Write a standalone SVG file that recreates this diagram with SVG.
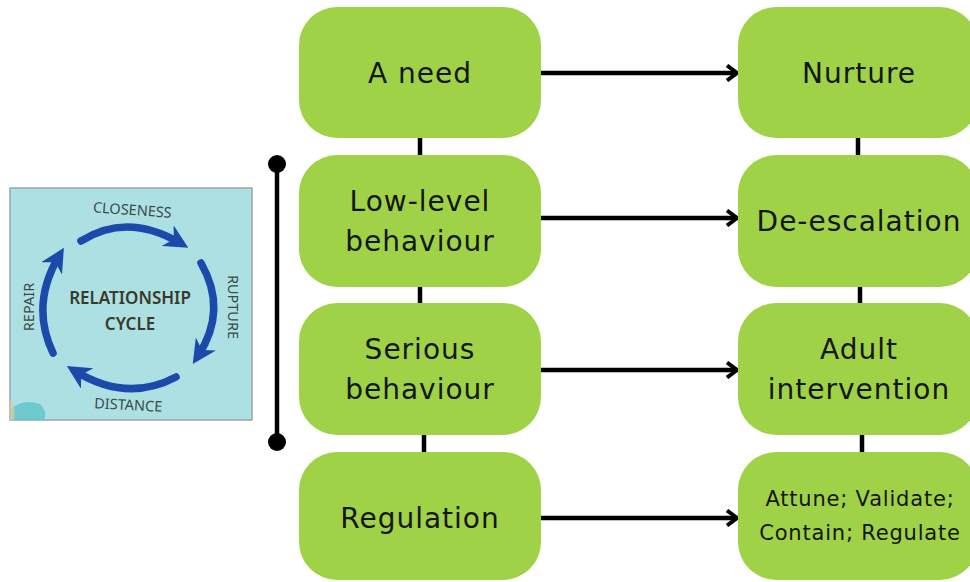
<svg xmlns="http://www.w3.org/2000/svg" width="970" height="582" viewBox="0 0 970 582">
<defs>
<style>
.box{fill:#9fd247;}
.t{font-family:"DejaVu Sans","Noto Sans",sans-serif;font-size:28px;letter-spacing:1px;fill:#151515;text-anchor:middle;}
.ts{font-family:"DejaVu Sans","Noto Sans",sans-serif;font-size:21px;letter-spacing:0.8px;fill:#151515;text-anchor:middle;}
.ln{stroke:#000;stroke-width:4.5;fill:none;}
.arw{stroke:#000;stroke-width:4.5;fill:none;marker-end:url(#chev);}
.cyc{stroke:#1c4aaa;stroke-width:7.5;fill:none;stroke-linecap:round;marker-end:url(#bh);}
.cl{font-family:"Noto Sans","Open Sans",sans-serif;font-size:14.5px;fill:#3b4a4a;text-anchor:middle;}
.cc{font-family:"Noto Sans","Open Sans",sans-serif;font-size:17px;fill:#3a3a2a;text-anchor:middle;font-weight:600;}
</style>
<marker id="chev" viewBox="0 0 14 18" refX="12" refY="9" markerWidth="14" markerHeight="18" markerUnits="userSpaceOnUse" orient="auto">
<path d="M2,1.5 L12,9 L2,16.5" fill="none" stroke="#000" stroke-width="4"/>
</marker>
<marker id="bh" viewBox="0 0 10 10" refX="6" refY="5" markerWidth="3.2" markerHeight="3.2" orient="auto">
<path d="M0,0 L10,5 L0,10 L3,5 Z" fill="#1c4aaa"/>
</marker>
</defs>
<rect width="970" height="582" fill="#fff"/>

<g id="cycle-image">
<rect x="10" y="188" width="242" height="232" fill="#ace0e2" stroke="#9aa7a8" stroke-width="1.5"/>
<path d="M10,410 Q22,398 40,404 Q48,412 44,420 L10,420 Z" fill="#5ec5cc" opacity="0.8"/>
<path d="M10,400 Q16,404 14,420 L10,420 Z" fill="#e6c9a0" opacity="0.7"/>
<path class="cyc" d="M81,241 Q127,212 180,243"/>
<path class="cyc" d="M201,263 Q228,310 198,356"/>
<path class="cyc" d="M176,377 Q127,403 75,371"/>
<path class="cyc" d="M53,353 Q30,305 59,256"/>
<text class="cl" x="132" y="215" transform="rotate(4 132 215)">CLOSENESS</text>
<text class="cl" x="228" y="307" transform="rotate(90 228 307)">RUPTURE</text>
<text class="cl" x="34" y="307" transform="rotate(-90 34 307)">REPAIR</text>
<text class="cl" x="128" y="410" transform="rotate(3 128 410)">DISTANCE</text>
<text class="cc" x="130" y="304">RELATIONSHIP</text>
<text class="cc" x="130" y="330">CYCLE</text>
</g>

<g id="connectors">
<line class="ln" x1="420" y1="136" x2="420" y2="157"/>
<line class="ln" x1="420" y1="285" x2="420" y2="305"/>
<line class="ln" x1="424" y1="433" x2="424" y2="454"/>
<line class="ln" x1="858" y1="136" x2="858" y2="157"/>
<line class="ln" x1="860" y1="285" x2="860" y2="305"/>
<line class="ln" x1="862" y1="433" x2="862" y2="454"/>
<line class="arw" x1="540" y1="73" x2="737" y2="73"/>
<line class="arw" x1="540" y1="218" x2="737" y2="218"/>
<line class="arw" x1="540" y1="370" x2="737" y2="370"/>
<line class="arw" x1="540" y1="518" x2="737" y2="518"/>
<line class="ln" x1="277" y1="164" x2="277" y2="442"/>
<circle cx="277" cy="164" r="9" fill="#000"/>
<circle cx="277" cy="442" r="9" fill="#000"/>
</g>

<g id="n-need"><rect class="box" x="299" y="7" width="242" height="131" rx="38"/><text class="t" x="420" y="83">A need</text></g>
<g id="n-low"><rect class="box" x="299" y="155" width="242" height="132" rx="38"/><text class="t" x="420" y="211">Low-level</text><text class="t" x="420" y="251">behaviour</text></g>
<g id="n-serious"><rect class="box" x="299" y="303" width="242" height="132" rx="38"/><text class="t" x="420" y="359">Serious</text><text class="t" x="420" y="399">behaviour</text></g>
<g id="n-regulation"><rect class="box" x="299" y="452" width="242" height="128" rx="38"/><text class="t" x="420" y="528">Regulation</text></g>
<g id="n-nurture"><rect class="box" x="738" y="7" width="240" height="131" rx="38"/><text class="t" x="859" y="83">Nurture</text></g>
<g id="n-deesc"><rect class="box" x="738" y="155" width="240" height="132" rx="38"/><text class="t" x="859" y="231">De-escalation</text></g>
<g id="n-adult"><rect class="box" x="738" y="303" width="240" height="132" rx="38"/><text class="t" x="859" y="359">Adult</text><text class="t" x="859" y="399">intervention</text></g>
<g id="n-attune"><rect class="box" x="738" y="452" width="240" height="128" rx="38"/><text class="ts" x="860" y="506">Attune; Validate;</text><text class="ts" x="860" y="540">Contain; Regulate</text></g>
</svg>
